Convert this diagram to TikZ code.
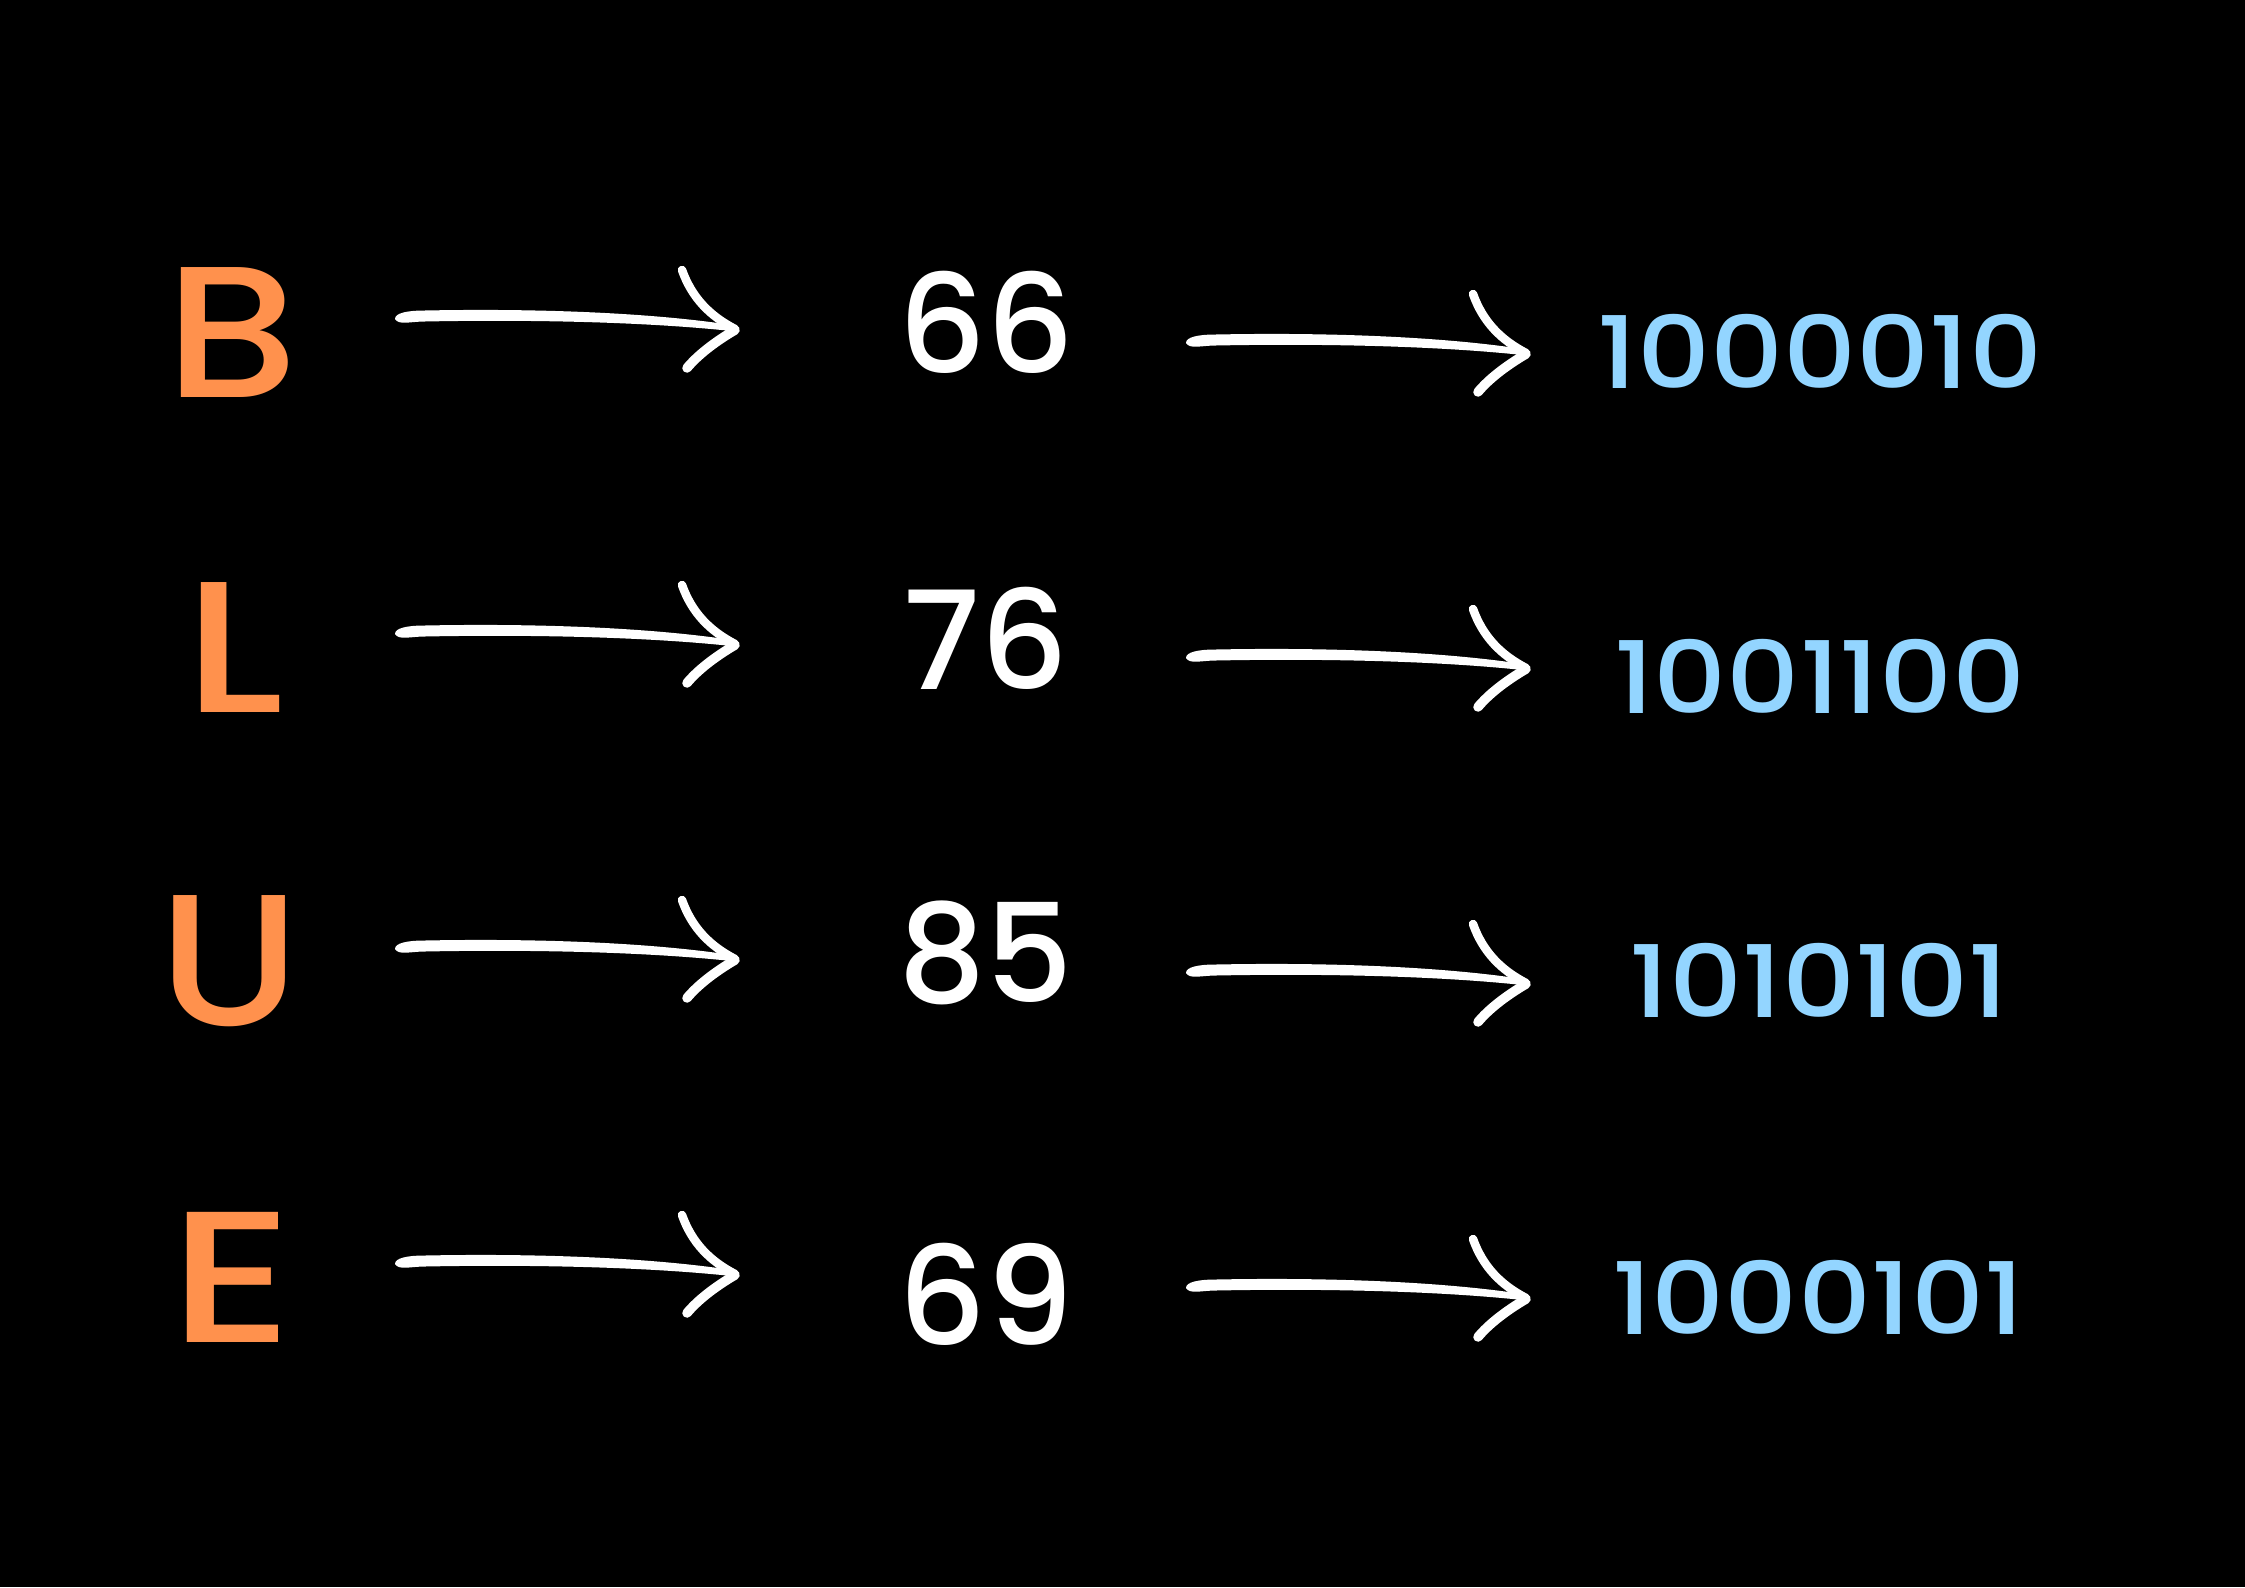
\documentclass[tikz,border=0pt]{standalone}
\usepackage{fontspec}
\setmainfont{Poppins}[UprightFont=* Medium]
\definecolor{letterorange}{HTML}{FF914D}
\definecolor{binblue}{HTML}{93D5FF}
\tikzset{
  letter/.style={font=\fontsize{187}{187}\selectfont, text=letterorange, anchor=base, inner sep=0pt},
  decnum/.style={font=\fontsize{137}{137}\selectfont, text=white, anchor=base, inner sep=0pt},
  binnum/.style={font=\fontsize{100}{100}\selectfont, text=binblue, anchor=base, inner sep=0pt},
  brushhead/.style={draw=white, line width=8.5pt, line cap=round, line join=round},
}
\newcommand{\wide}[2]{\scalebox{#1}[1]{#2}}
\newcommand{\brusharrow}[1]{%
  \begin{scope}[shift={(#1)}]
    \fill[white] (0,1) .. controls (0,-5) and (12,-7.5) .. (30,-7.5)
      .. controls (130,-9.5) and (250,-6.5) .. (340,7.5)
      -- (341,13.5) .. controls (250,3.5) and (130,1.5) .. (30,3.5)
      .. controls (15,3.5) and (4,7.5) .. (0,1) -- cycle;
    \draw[brushhead] (287,-48) .. controls (297,-20) and (315,-2) .. (340,11);
    \draw[brushhead, line width=9.5pt] (340,12) .. controls (318,25) and (302,38) .. (292,50);
  \end{scope}}
\begin{document}
\begin{tikzpicture}[x=1pt,y=-1pt]
  \useasboundingbox (0,0) rectangle (2245,1587);
  \fill[black] (0,0) rectangle (2245,1587);
  % letters
  \node[letter] (lB) at (232,397) {\wide{1.13}{B}};
  \node[letter] (lL) at (234,712) {\wide{1.2}{L}};
  \node[letter] (lU) at (229,1025) {\wide{1.1}{U}};
  \node[letter] (lE) at (232,1342) {\wide{1.27}{E}};
  % decimal numbers
  \node[decnum] (d1) at (986,373) {66};
  \node[decnum] (d2) at (986,689) {76};
  \node[decnum] (d3) at (986,1002) {85};
  \node[decnum] (d4) at (986,1345) {69};
  % binary numbers
  \node[binnum] (b1) at (1820,388) {\wide{1.14}{1000010}};
  \node[binnum] (b2) at (1820,713) {\wide{1.14}{1001100}};
  \node[binnum] (b3) at (1819,1017) {\wide{1.14}{1010101}};
  \node[binnum] (b4) at (1818,1334) {\wide{1.14}{1000101}};
  % arrow anchor coordinates
  \foreach \k in {0,1,2,3}{
    \coordinate (p\k) at (395,318+315*\k);
    \coordinate (q\k) at (1186,342+315*\k);
  }
  \foreach \k in {0,1,2,3}{
    \brusharrow{p\k}
    \brusharrow{q\k}
  }
\end{tikzpicture}
\end{document}
